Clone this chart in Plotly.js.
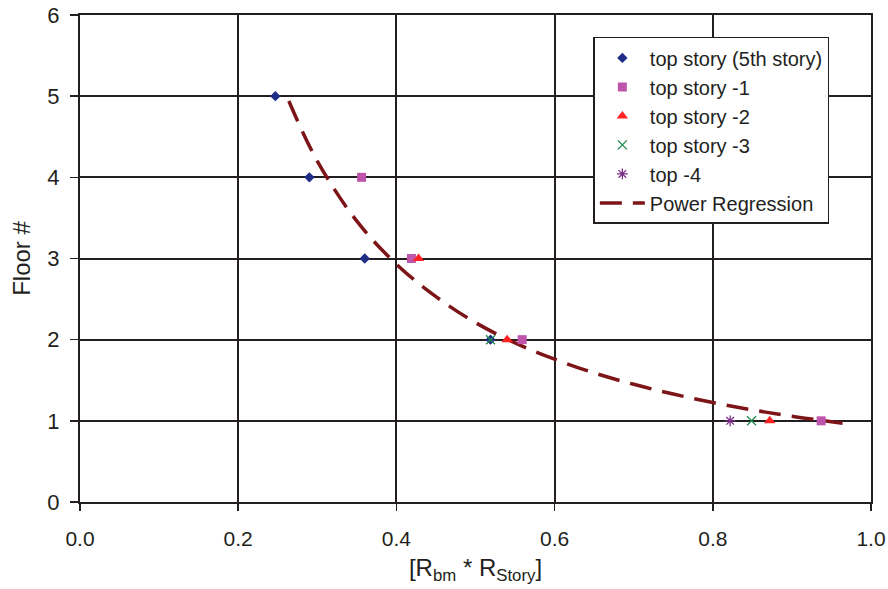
<!DOCTYPE html>
<html>
<head>
<meta charset="utf-8">
<script src="https://cdn.plot.ly/plotly-3.0.1.min.js"></script>
<style>html,body{margin:0;padding:0;background:#fff}#chart{width:888px;height:589px}</style>
</head>
<body>
<div id="chart"></div>
<script>
// Data
var topStoryX = [0.247, 0.290, 0.360, 0.519];
var topStoryY = [5, 4, 3, 2];
var topMinus1X = [0.356, 0.419, 0.559, 0.937];
var topMinus1Y = [4, 3, 2, 1];
var topMinus2X = [0.428, 0.540, 0.872];
var topMinus2Y = [3, 2, 1];
var topMinus3X = [0.519, 0.849];
var topMinus3Y = [2, 1];
var topMinus4X = [0.822];
var topMinus4Y = [1];
var regressionX = [0.264, 0.30, 0.35, 0.40, 0.45, 0.50, 0.55, 0.60, 0.65, 0.70, 0.75, 0.80, 0.85, 0.90, 0.964];
var regressionY = [4.94, 4.20, 3.46, 2.93, 2.53, 2.21, 1.96, 1.76, 1.59, 1.45, 1.33, 1.225, 1.135, 1.056, 0.97];
var xTicks = [0, 0.2, 0.4, 0.6, 0.8, 1.0];
var xTickLabels = ['0.0', '0.2', '0.4', '0.6', '0.8', '1.0'];
var yTicks = [0, 1, 2, 3, 4, 5, 6];

var font = 'Liberation Sans, Arial, sans-serif';
var ink = '#231f20';

var traces = [
  {x: regressionX, y: regressionY, mode: 'lines', name: 'Power Regression', legendrank: 6,
   line: {color: '#7d1518', width: 3.5, dash: '22px,11px', shape: 'spline'}},
  {x: topStoryX, y: topStoryY, mode: 'markers', name: 'top story (5th story)', legendrank: 1,
   marker: {symbol: 'diamond', color: '#1f2d86', size: 8}},
  {x: topMinus1X, y: topMinus1Y, mode: 'markers', name: 'top story -1', legendrank: 2,
   marker: {symbol: 'square', color: '#bf55aa', size: 9}},
  {x: topMinus2X, y: topMinus2Y, mode: 'markers', name: 'top story -2', legendrank: 3,
   marker: {symbol: 'triangle-up', color: '#ff2222', size: 10}},
  {x: topMinus3X, y: topMinus3Y, mode: 'markers', name: 'top story -3', legendrank: 4,
   marker: {symbol: 'x-thin-open', color: '#1e8a4c', size: 9, line: {width: 1.3, color: '#1e8a4c'}}},
  {x: topMinus4X, y: topMinus4Y, mode: 'markers', name: 'top -4', legendrank: 5,
   marker: {symbol: 'asterisk-open', color: '#7a2f86', size: 9, line: {width: 1.3, color: '#7a2f86'}}}
];

var layout = {
  width: 888, height: 589,
  margin: {l: 80, r: 17, t: 15, b: 87},
  paper_bgcolor: '#fff', plot_bgcolor: '#fff',
  font: {family: font, color: ink, size: 21},
  showlegend: true,
  legend: {x: 0.649, y: 0.955, xanchor: 'left', yanchor: 'top',
           bgcolor: '#fff', bordercolor: ink, borderwidth: 1.5,
           font: {family: font, size: 20, color: ink},
           tracegroupgap: 0, itemwidth: 45},
  xaxis: {range: [0, 1.0], tickvals: xTicks, ticktext: xTickLabels,
          showgrid: true, gridcolor: ink, gridwidth: 2,
          showline: true, linecolor: ink, linewidth: 2, mirror: true,
          zeroline: false, ticks: 'outside', ticklen: 7, tickwidth: 1.5, tickcolor: ink,
          ticklabelstandoff: 10,
          tickfont: {family: font, size: 21, color: ink},
          title: {text: '[R<sub>bm</sub> * R<sub>Story</sub>]', font: {family: font, size: 24, color: ink}, standoff: 10}},
  yaxis: {range: [0, 6], tickvals: yTicks,
          showgrid: true, gridcolor: ink, gridwidth: 2,
          showline: true, linecolor: ink, linewidth: 2, mirror: true,
          zeroline: false, ticks: 'outside', ticklen: 8, tickwidth: 1.5, tickcolor: ink,
          ticklabelstandoff: 6,
          tickfont: {family: font, size: 22, color: ink},
          title: {text: 'Floor #', font: {family: font, size: 24, color: ink}, standoff: 10}}
};

Plotly.newPlot('chart', traces, layout, {displayModeBar: false, staticPlot: true});
</script>
</body>
</html>
